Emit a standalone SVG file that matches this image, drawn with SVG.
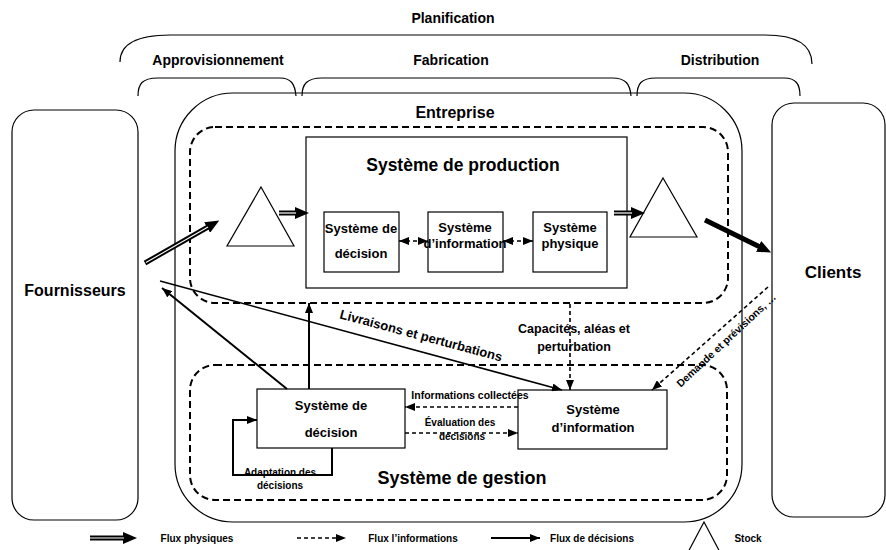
<svg xmlns="http://www.w3.org/2000/svg" width="886" height="550" viewBox="0 0 886 550">
<style>
text{font-family:"Liberation Sans",Arial,sans-serif;font-weight:bold;fill:#000;text-anchor:middle}
.box{fill:#fff;stroke:#000;stroke-width:1.2}
.tri{fill:#fff;stroke:#000;stroke-width:1.2}
.thin{fill:none;stroke:#000;stroke-width:1.2}
.dashbox{fill:none;stroke:#000;stroke-width:2;stroke-dasharray:7,4}
.dec{fill:none;stroke:#000;stroke-width:2}
.info{fill:none;stroke:#000;stroke-width:1.6;stroke-dasharray:4,3}
.brace{fill:none;stroke:#000;stroke-width:1.2}
</style>
<defs>
<marker id="ah" viewBox="0 0 10 8" refX="10" refY="4" markerWidth="10" markerHeight="8" markerUnits="userSpaceOnUse" orient="auto-start-reverse"><path d="M0,0 L10,4 L0,8 z" fill="#000"/></marker>
<marker id="ahBig" viewBox="0 0 14 12" refX="1" refY="6" markerWidth="14" markerHeight="12" markerUnits="userSpaceOnUse" orient="auto"><path d="M0,0 L14,6 L0,12 z" fill="#000"/></marker>
</defs>

<g id="planification">
<text x="453" y="23" font-size="14">Planification</text>
<path class="brace" d="M120,62 C120,44 138,35 170,35 L765,35 C795,35 812,44 812,64"/>
</g>
<g id="approvisionnement">
<text x="218" y="65" font-size="14">Approvisionnement</text>
<path class="brace" d="M138,96 C138,84 142,78 158,78 L280,78 C291,78 295,84 296,96"/>
</g>
<g id="fabrication">
<text x="451" y="65" font-size="14">Fabrication</text>
<path class="brace" d="M302,96 C302,84 307,78 322,78 L612,78 C626,78 630,84 631,96"/>
</g>
<g id="distribution">
<text x="720" y="65" font-size="14">Distribution</text>
<path class="brace" d="M637,96 C637,84 641,78 656,78 L784,78 C796,78 800,84 800,96"/>
</g>

<g id="fournisseurs">
<rect class="box" x="12" y="110" width="126" height="410" rx="22"/>
<text x="75" y="296" font-size="16">Fournisseurs</text>
</g>
<g id="clients">
<rect class="box" x="772" y="103" width="113" height="414" rx="22"/>
<text x="833" y="278" font-size="17">Clients</text>
</g>

<g id="entreprise">
<rect class="thin" x="175" y="93" width="567" height="429" rx="58"/>
<text x="455" y="118" font-size="16">Entreprise</text>
</g>

<g id="zone-production">
<rect class="dashbox" x="190" y="127" width="538" height="176" rx="25"/>
</g>
<g id="systeme-production">
<rect class="box" x="306" y="137" width="321" height="151"/>
<text x="463" y="171" font-size="17.5">Système de production</text>
</g>
<g id="prod-decision">
<rect class="box" x="324" y="212" width="75" height="60"/>
<text x="361" y="233" font-size="13">Système de</text>
<text x="361" y="258" font-size="13">décision</text>
</g>
<g id="prod-information">
<rect class="box" x="428" y="212" width="75" height="60"/>
<text x="465" y="232" font-size="13">Système</text>
<text x="465" y="248" font-size="13">d’information</text>
</g>
<g id="prod-physique">
<rect class="box" x="533" y="212" width="74" height="60"/>
<text x="570" y="232" font-size="13">Système</text>
<text x="570" y="248" font-size="13">physique</text>
</g>
<g id="stock-amont">
<polygon class="tri" points="261,187 294,246 227,246"/>
</g>
<g id="stock-aval">
<polygon class="tri" points="663,178 697,237 630,237"/>
</g>

<g id="zone-gestion">
<rect class="dashbox" x="190" y="365" width="537" height="135" rx="25"/>
<text x="462" y="484" font-size="18">Système de gestion</text>
</g>
<g id="gestion-decision">
<rect class="box" x="257" y="389" width="148" height="59"/>
<text x="331" y="410" font-size="13">Système de</text>
<text x="331" y="437" font-size="13">décision</text>
</g>
<g id="gestion-information">
<rect class="box" x="518" y="390" width="149" height="59"/>
<text x="593" y="414" font-size="13">Système</text>
<text x="593" y="432" font-size="13">d’information</text>
</g>

<g id="connecteurs">
<line x1="145" y1="263" x2="208" y2="227" stroke="#000" stroke-width="5" marker-end="url(#ahBig)"/>
<line x1="146" y1="262.5" x2="208" y2="227" stroke="#fff" stroke-width="1.1"/>
<line x1="705" y1="220" x2="759.5" y2="246.8" stroke="#000" stroke-width="5" marker-end="url(#ahBig)"/>
<line x1="279" y1="213" x2="296" y2="213" stroke="#000" stroke-width="5" marker-end="url(#ahBig)"/>
<line x1="279" y1="213" x2="296" y2="213" stroke="#fff" stroke-width="1.2"/>
<line x1="614" y1="213" x2="632" y2="213" stroke="#000" stroke-width="5" marker-end="url(#ahBig)"/>
<line x1="614" y1="213" x2="632" y2="213" stroke="#fff" stroke-width="1.2"/>
<line class="info" x1="399" y1="241" x2="428" y2="241" marker-start="url(#ah)" marker-end="url(#ah)"/>
<line class="info" x1="503" y1="241" x2="533" y2="241" marker-start="url(#ah)" marker-end="url(#ah)"/>
<line class="info" x1="518" y1="407" x2="405" y2="407" marker-end="url(#ah)"/>
<line class="info" x1="405" y1="433" x2="518" y2="433" marker-end="url(#ah)"/>
<line class="info" x1="570" y1="304" x2="570" y2="390" marker-end="url(#ah)"/>
<line class="info" x1="768" y1="287" x2="652" y2="390" marker-end="url(#ah)"/>
<line class="dec" x1="309" y1="389" x2="309" y2="303" marker-end="url(#ah)"/>
<line class="dec" x1="287" y1="389" x2="162" y2="288" marker-end="url(#ah)"/>
<path class="dec" d="M332,448 V475 H233 V420 H257" marker-end="url(#ah)"/>
<line x1="160" y1="281" x2="562" y2="390" stroke="#000" stroke-width="1.5" marker-end="url(#ah)"/>
<text x="421" y="340" font-size="13" transform="rotate(15 421 336)">Livraisons et perturbations</text>
<text x="574" y="333" font-size="12.5">Capacités, aléas et</text>
<text x="574" y="351" font-size="12.5">perturbation</text>
<text x="726" y="344" font-size="10.5" transform="rotate(-43 726 340)">Demande et prévisions, …</text>
<text x="470" y="399" font-size="10.5">Informations collectées</text>
<text x="460" y="426" font-size="10">Évaluation des</text>
<text x="462" y="440" font-size="10">décisions</text>
<text x="280" y="476" font-size="10">Adaptation des</text>
<text x="280" y="489" font-size="10">décisions</text>
</g>

<g id="legende">
<line x1="90" y1="538" x2="124" y2="538" stroke="#000" stroke-width="5" marker-end="url(#ahBig)"/>
<line x1="90" y1="538" x2="124" y2="538" stroke="#fff" stroke-width="1.2"/>
<text x="197" y="542" font-size="10">Flux physiques</text>
<line class="info" x1="297" y1="538" x2="346" y2="538" marker-end="url(#ah)"/>
<text x="413" y="542" font-size="10">Flux l’informations</text>
<line class="dec" x1="491" y1="538" x2="540" y2="538" marker-end="url(#ah)"/>
<text x="592" y="542" font-size="10">Flux de décisions</text>
<polygon class="tri" points="704,522 722,556 686,556"/>
<text x="748" y="542" font-size="10">Stock</text>
</g>
</svg>
